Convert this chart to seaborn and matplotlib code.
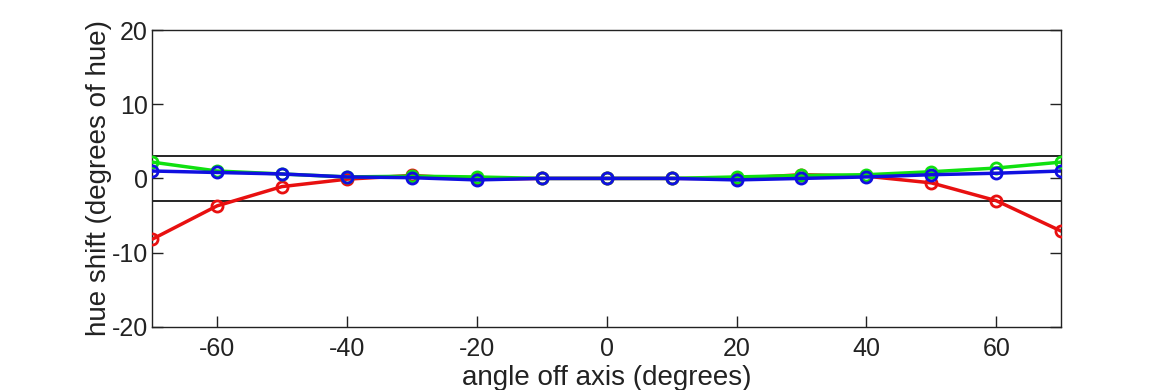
import matplotlib
matplotlib.use("Agg")
import matplotlib.pyplot as plt
import seaborn as sns
import pandas as pd

angles = [-70, -60, -50, -40, -30, -20, -10, 0, 10, 20, 30, 40, 50, 60, 70]
red = [-8.2, -3.7, -1.1, -0.1, 0.4, -0.1, 0.0, 0.0, 0.0, 0.0, 0.5, 0.3, -0.6, -3.0, -7.1]
green = [2.2, 1.0, 0.6, 0.2, 0.3, 0.2, 0.0, 0.0, 0.0, 0.2, 0.4, 0.5, 0.9, 1.4, 2.2]
blue = [1.0, 0.8, 0.6, 0.2, 0.1, -0.2, 0.0, 0.0, 0.0, -0.2, 0.0, 0.2, 0.5, 0.7, 1.0]
threshold = 3
xticks = [-60, -40, -20, 0, 20, 40, 60]
yticks = [-20, -10, 0, 10, 20]

sns.set_style("white")
plt.rcParams['font.family'] = ['Liberation Sans', 'DejaVu Sans']

fig = plt.figure(figsize=(11.7, 3.9), dpi=100)
ax = fig.add_axes([0.130, 0.162, 0.777, 0.761])

ax.axhline(threshold, color='black', lw=1.2, zorder=1)
ax.axhline(-threshold, color='black', lw=1.2, zorder=1)

series = [("red", red, "#e81010"), ("green", green, "#10e010"), ("blue", blue, "#1010e0")]
for name, vals, col in series:
    df = pd.DataFrame({"angle": angles, "shift": vals})
    sns.lineplot(data=df, x="angle", y="shift", ax=ax, color=col, lw=2.5,
                 marker='o', markersize=8, markerfacecolor='none',
                 markeredgecolor=col, markeredgewidth=2, zorder=3)

ax.set_xlim(-70, 70)
ax.set_ylim(-20, 20)
ax.set_xticks(xticks)
ax.set_yticks(yticks)
ax.set_xticklabels([str(t) for t in xticks])
ax.set_yticklabels([str(t) for t in yticks])
ax.tick_params(direction='in', length=8, width=1, labelsize=18, colors='#222222',
               top=False, right=True, left=True, bottom=True)
ax.tick_params(axis='x', pad=7)
ax.tick_params(axis='y', pad=3)
for s in ax.spines.values():
    s.set_color('#222222')
    s.set_linewidth(1)
ax.set_xlabel("angle off axis (degrees)", fontsize=20, color='#222222', labelpad=3)
ax.set_ylabel("hue shift (degrees of hue)", fontsize=20, color='#222222', labelpad=0)
ax.grid(False)

fig.savefig("out.png", dpi=100)
